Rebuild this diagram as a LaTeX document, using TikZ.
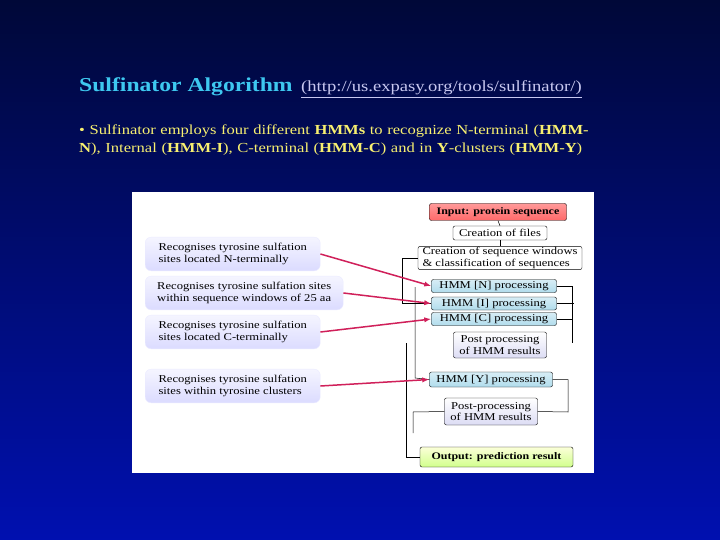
\documentclass[tikz,border=0pt]{standalone}
\usepackage{fontspec}
\setmainfont[FakeStretch=1.2]{Liberation Serif}
\usetikzlibrary{arrows.meta,shadows}
\definecolor{ttl}{HTML}{3EC8F0}
\definecolor{lnk}{HTML}{C8C8F0}
\definecolor{yel}{HTML}{F8F070}
\definecolor{arr}{HTML}{D0205A}
\definecolor{bgtop}{HTML}{000838}
\definecolor{bgbot}{HTML}{0010B0}
\definecolor{hmmc}{HTML}{B0DCEC}
\definecolor{postc}{HTML}{DCDCF4}
\tikzset{
 lbox/.style={rounded corners=6pt,top color=blue!4,bottom color=blue!14,draw=blue!8,minimum height=33pt,align=left,font=\fontsize{10.5}{12}\selectfont,inner sep=6pt,anchor=west},
 hmm/.style={rounded corners=2pt,draw=black,top color=hmmc!50,bottom color=hmmc,font=\fontsize{10.5}{11}\selectfont,minimum height=13pt,minimum width=125pt,inner sep=1pt},
 post/.style={rounded corners=2pt,draw=black,top color=white,bottom color=postc,font=\fontsize{10.5}{11.5}\selectfont,align=center,inner sep=1pt,minimum width=93pt},
 plain/.style={rounded corners=2pt,draw=black,fill=white,font=\fontsize{10.5}{11.5}\selectfont,align=left,inner sep=1pt},
 pa/.style={arr,line width=1.5pt,-{Latex[length=7pt]}},
 ln/.style={black,line width=0.5pt}
}
\begin{document}
\begin{tikzpicture}[x=1pt,y=-1pt]
\shade[top color=bgtop,bottom color=bgbot] (0,0) rectangle (720,540);
\useasboundingbox (0,0) rectangle (720,540);
\node[anchor=base west,inner sep=0,text=ttl,font=\bfseries\fontsize{19.7}{22}\selectfont] (t) at (79,92) {Sulfinator Algorithm};
\node[anchor=base west,inner sep=0,text=lnk,font=\fontsize{15.5}{17}\selectfont] (u) at (301,92) {\underline{(http://us.expasy.org/tools/sulfinator/)}};
\node[anchor=north west,inner sep=0,text=yel,align=left,text width=580pt,font=\fontsize{13.8}{18}\selectfont] (b) at (79,125) {• Sulfinator employs four different \textbf{HMMs} to recognize N-terminal (\textbf{HMM-}\\\textbf{N}), Internal (\textbf{HMM-I}), C-terminal (\textbf{HMM-C}) and in \textbf{Y}-clusters (\textbf{HMM-Y})};
\fill[white] (132,192) rectangle (594,473);
% left boxes
\node[lbox,minimum width=175pt] (l1) at (145,254) {Recognises tyrosine sulfation\\sites located N-terminally};
\node[lbox,minimum width=198pt] (l2) at (145,293) {Recognises tyrosine sulfation sites\\within sequence windows of 25 aa};
\node[lbox,minimum width=175pt] (l3) at (145,332) {Recognises tyrosine sulfation\\sites located C-terminally};
\node[lbox,minimum width=175pt] (l4) at (145,386) {Recognises tyrosine sulfation\\sites within tyrosine clusters};
% flow
\node[rounded corners=2pt,draw=black,top color=red!20!pink,bottom color=red!45!pink,font=\bfseries\fontsize{10}{11}\selectfont,minimum width=137pt,minimum height=17pt,inner sep=1pt] (in) at (498,212) {Input: protein sequence};
\node[plain,minimum width=94pt,minimum height=14pt] (cf) at (500,233) {Creation of files};
\node[plain,minimum width=164pt,minimum height=23pt] (cw) at (500,258) {Creation of sequence windows\\\& classification of sequences};
\node[hmm] (hn) at (494,286) {HMM [N] processing};
\node[hmm] (hi) at (494,303.5) {HMM [I] processing};
\node[hmm] (hc) at (494,319) {HMM [C] processing};
\node[post,minimum height=26pt] (p1) at (500,345) {Post processing\\of HMM results};
\node[hmm,minimum width=123pt,minimum height=15pt] (hy) at (491,379.5) {HMM [Y] processing};
\node[post,minimum height=27pt] (p2) at (491,411.5) {Post-processing\\of HMM results};
\node[rounded corners=2pt,draw=black,top color=green!10!yellow!15,bottom color=green!40!yellow!45,font=\bfseries\fontsize{10}{11}\selectfont,minimum width=153pt,minimum height=20pt,inner sep=1pt] (out) at (496.5,457) {Output: prediction result};
% connectors
\draw[ln] (in.south) -- (cf.north);
\draw[ln] (cf.south) -- (cw.north);
\draw[ln] (cw.west) -- (402,258) -- (402,303.5) -- (hi.west);
\draw[ln] (415,287) -- (415,378) -- (hy.west);
\draw[ln] (hn.east) -- (572,286) -- (572,343);
\draw[ln] (hi.east) -- (574,303.5);
\draw[ln] (hc.east) -- (572,319);
\draw[ln] (hy.east) -- (568,379.5) -- (568,412) -- (p2.east);
\draw[ln] (p2.west) -- (413,412) -- (413,433);
\draw[ln] (406,343) -- (406,457) -- (out.west);
% arrows
\draw[pa] (l1.east) -- (hn.west);
\draw[pa] (l2.east) -- (hi.west);
\draw[pa] (l3.east) -- (hc.west);
\draw[pa] (l4.east) -- (hy.west);
\end{tikzpicture}
\end{document}
